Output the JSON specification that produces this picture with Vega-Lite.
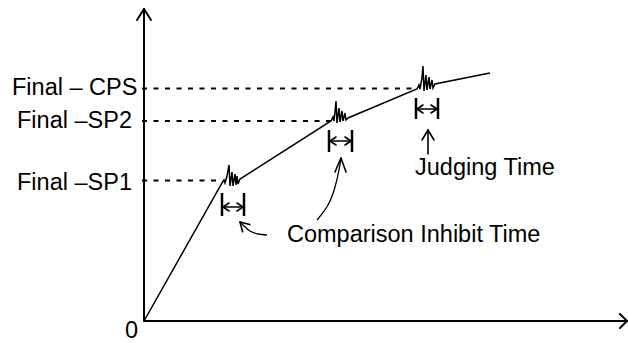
{
  "$schema": "https://vega.github.io/schema/vega-lite/v6.json",
  "width": 481,
  "height": 316,
  "autosize": "none",
  "padding": {"left": 144, "top": 5, "right": 3, "bottom": 22},
  "background": "white",
  "config": {"view": {"stroke": null}},
  "datasets": {
    "axis": [
      {"x": 0, "y": 0, "x2": 0, "y2": 312},
      {"x": 0, "y": 0, "x2": 482, "y2": 0},
      {"x": 0, "y": 312, "x2": -7, "y2": 301},
      {"x": 0, "y": 312, "x2": 7, "y2": 301},
      {"x": 483, "y": 0, "x2": 476, "y2": 7},
      {"x": 483, "y": 0, "x2": 476, "y2": -7}
    ],
    "dash": [
      {"x": -2, "y": 140.5, "x2": 78, "y2": 140.5},
      {"x": -2, "y": 200, "x2": 187, "y2": 200},
      {"x": -2, "y": 232.5, "x2": 273, "y2": 232.5}
    ],
    "curve": [
      {"i": 0, "x": 0, "y": 0},
      {"i": 1, "x": 78, "y": 138},
      {"i": 2, "x": 80, "y": 141},
      {"i": 3, "x": 81, "y": 138},
      {"i": 4, "x": 83, "y": 145},
      {"i": 5, "x": 85, "y": 156},
      {"i": 6, "x": 86, "y": 135},
      {"i": 7, "x": 88, "y": 149},
      {"i": 8, "x": 89, "y": 135},
      {"i": 9, "x": 91, "y": 147},
      {"i": 10, "x": 92, "y": 136},
      {"i": 11, "x": 93, "y": 145},
      {"i": 12, "x": 94, "y": 137},
      {"i": 13, "x": 96, "y": 142},
      {"i": 14, "x": 187, "y": 200},
      {"i": 15, "x": 189, "y": 204},
      {"i": 16, "x": 190, "y": 200},
      {"i": 17, "x": 191, "y": 209},
      {"i": 18, "x": 192, "y": 220},
      {"i": 19, "x": 193, "y": 198},
      {"i": 20, "x": 195, "y": 213},
      {"i": 21, "x": 196, "y": 199},
      {"i": 22, "x": 198, "y": 210},
      {"i": 23, "x": 199, "y": 200},
      {"i": 24, "x": 201, "y": 208},
      {"i": 25, "x": 202, "y": 201},
      {"i": 26, "x": 204, "y": 203},
      {"i": 27, "x": 273, "y": 232},
      {"i": 28, "x": 275, "y": 236},
      {"i": 29, "x": 276, "y": 232},
      {"i": 30, "x": 278, "y": 243},
      {"i": 31, "x": 279, "y": 255},
      {"i": 32, "x": 280, "y": 230},
      {"i": 33, "x": 282, "y": 246},
      {"i": 34, "x": 283, "y": 231},
      {"i": 35, "x": 285, "y": 244},
      {"i": 36, "x": 286, "y": 232},
      {"i": 37, "x": 288, "y": 241},
      {"i": 38, "x": 289, "y": 233},
      {"i": 39, "x": 291, "y": 237},
      {"i": 40, "x": 346, "y": 248}
    ],
    "bars": [
      {"x": 78, "y": 105, "x2": 78, "y2": 128},
      {"x": 100, "y": 105, "x2": 100, "y2": 128},
      {"x": 185, "y": 169, "x2": 185, "y2": 191},
      {"x": 208, "y": 169, "x2": 208, "y2": 191},
      {"x": 272, "y": 202, "x2": 272, "y2": 223},
      {"x": 294, "y": 202, "x2": 294, "y2": 223}
    ],
    "thin": [
      {"x": 79, "y": 114, "x2": 99, "y2": 114},
      {"x": 79, "y": 114, "x2": 85, "y2": 118},
      {"x": 79, "y": 114, "x2": 85, "y2": 110},
      {"x": 99, "y": 114, "x2": 93, "y2": 118},
      {"x": 99, "y": 114, "x2": 93, "y2": 110},
      {"x": 186, "y": 180, "x2": 207, "y2": 180},
      {"x": 186, "y": 180, "x2": 192, "y2": 184},
      {"x": 186, "y": 180, "x2": 192, "y2": 176},
      {"x": 207, "y": 180, "x2": 201, "y2": 184},
      {"x": 207, "y": 180, "x2": 201, "y2": 176},
      {"x": 273, "y": 212, "x2": 293, "y2": 212},
      {"x": 273, "y": 212, "x2": 279, "y2": 216},
      {"x": 273, "y": 212, "x2": 279, "y2": 208},
      {"x": 293, "y": 212, "x2": 287, "y2": 216},
      {"x": 293, "y": 212, "x2": 287, "y2": 208},
      {"x": 284, "y": 167, "x2": 284, "y2": 191},
      {"x": 284, "y": 191, "x2": 278, "y2": 181},
      {"x": 284, "y": 191, "x2": 290, "y2": 181},
      {"x": 96, "y": 99, "x2": 98.6, "y2": 89.3},
      {"x": 96, "y": 99, "x2": 105.7, "y2": 96.4},
      {"x": 197, "y": 163, "x2": 191, "y2": 149},
      {"x": 197, "y": 163, "x2": 202, "y2": 149}
    ],
    "arcs": [
      {"id": "a", "i": 0, "x": 123, "y": 86},
      {"id": "a", "i": 1, "x": 114, "y": 87},
      {"id": "a", "i": 2, "x": 106, "y": 90},
      {"id": "a", "i": 3, "x": 100, "y": 95},
      {"id": "a", "i": 4, "x": 96, "y": 99},
      {"id": "b", "i": 0, "x": 173, "y": 101},
      {"id": "b", "i": 1, "x": 184, "y": 116},
      {"id": "b", "i": 2, "x": 191, "y": 134},
      {"id": "b", "i": 3, "x": 195, "y": 151},
      {"id": "b", "i": 4, "x": 197, "y": 163}
    ],
    "labels": [
      {"text": "Final – CPS", "x": -132, "y": 226},
      {"text": "Final –SP2", "x": -127, "y": 193},
      {"text": "Final –SP1", "x": -127, "y": 131},
      {"text": "0", "x": -19, "y": -17},
      {"text": "Comparison Inhibit Time", "x": 143, "y": 79},
      {"text": "Judging Time", "x": 271, "y": 146}
    ]
  },
  "layer": [
    {
      "data": {"name": "dash"},
      "mark": {"type": "rule", "color": "black", "strokeWidth": 1.8, "strokeDash": [5, 6.5]},
      "encoding": {
        "x": {"field": "x", "type": "quantitative", "scale": {"domain": [0, 481], "nice": false, "zero": false}, "axis": null},
        "y": {"field": "y", "type": "quantitative", "scale": {"domain": [0, 316], "nice": false, "zero": false}, "axis": null},
        "x2": {"field": "x2"},
        "y2": {"field": "y2"}
      }
    },
    {
      "data": {"name": "axis"},
      "mark": {"type": "rule", "color": "black", "strokeWidth": 2, "strokeCap": "round"},
      "encoding": {
        "x": {"field": "x", "type": "quantitative"},
        "y": {"field": "y", "type": "quantitative"},
        "x2": {"field": "x2"},
        "y2": {"field": "y2"}
      }
    },
    {
      "data": {"name": "curve"},
      "mark": {"type": "line", "color": "black", "strokeWidth": 1.5, "strokeJoin": "miter"},
      "encoding": {
        "x": {"field": "x", "type": "quantitative"},
        "y": {"field": "y", "type": "quantitative"},
        "order": {"field": "i", "type": "quantitative"}
      }
    },
    {
      "data": {"name": "bars"},
      "mark": {"type": "rule", "color": "black", "strokeWidth": 2.5},
      "encoding": {
        "x": {"field": "x", "type": "quantitative"},
        "y": {"field": "y", "type": "quantitative"},
        "x2": {"field": "x2"},
        "y2": {"field": "y2"}
      }
    },
    {
      "data": {"name": "thin"},
      "mark": {"type": "rule", "color": "black", "strokeWidth": 1.6, "strokeCap": "round"},
      "encoding": {
        "x": {"field": "x", "type": "quantitative"},
        "y": {"field": "y", "type": "quantitative"},
        "x2": {"field": "x2"},
        "y2": {"field": "y2"}
      }
    },
    {
      "data": {"name": "arcs"},
      "mark": {"type": "line", "color": "black", "strokeWidth": 1.3, "interpolate": "natural"},
      "encoding": {
        "x": {"field": "x", "type": "quantitative"},
        "y": {"field": "y", "type": "quantitative"},
        "detail": {"field": "id"},
        "order": {"field": "i", "type": "quantitative"}
      }
    },
    {
      "data": {"name": "labels"},
      "mark": {"type": "text", "align": "left", "baseline": "alphabetic", "font": "Liberation Sans", "fontSize": 23.5, "color": "black"},
      "encoding": {
        "x": {"field": "x", "type": "quantitative"},
        "y": {"field": "y", "type": "quantitative"},
        "text": {"field": "text"}
      }
    }
  ]
}
